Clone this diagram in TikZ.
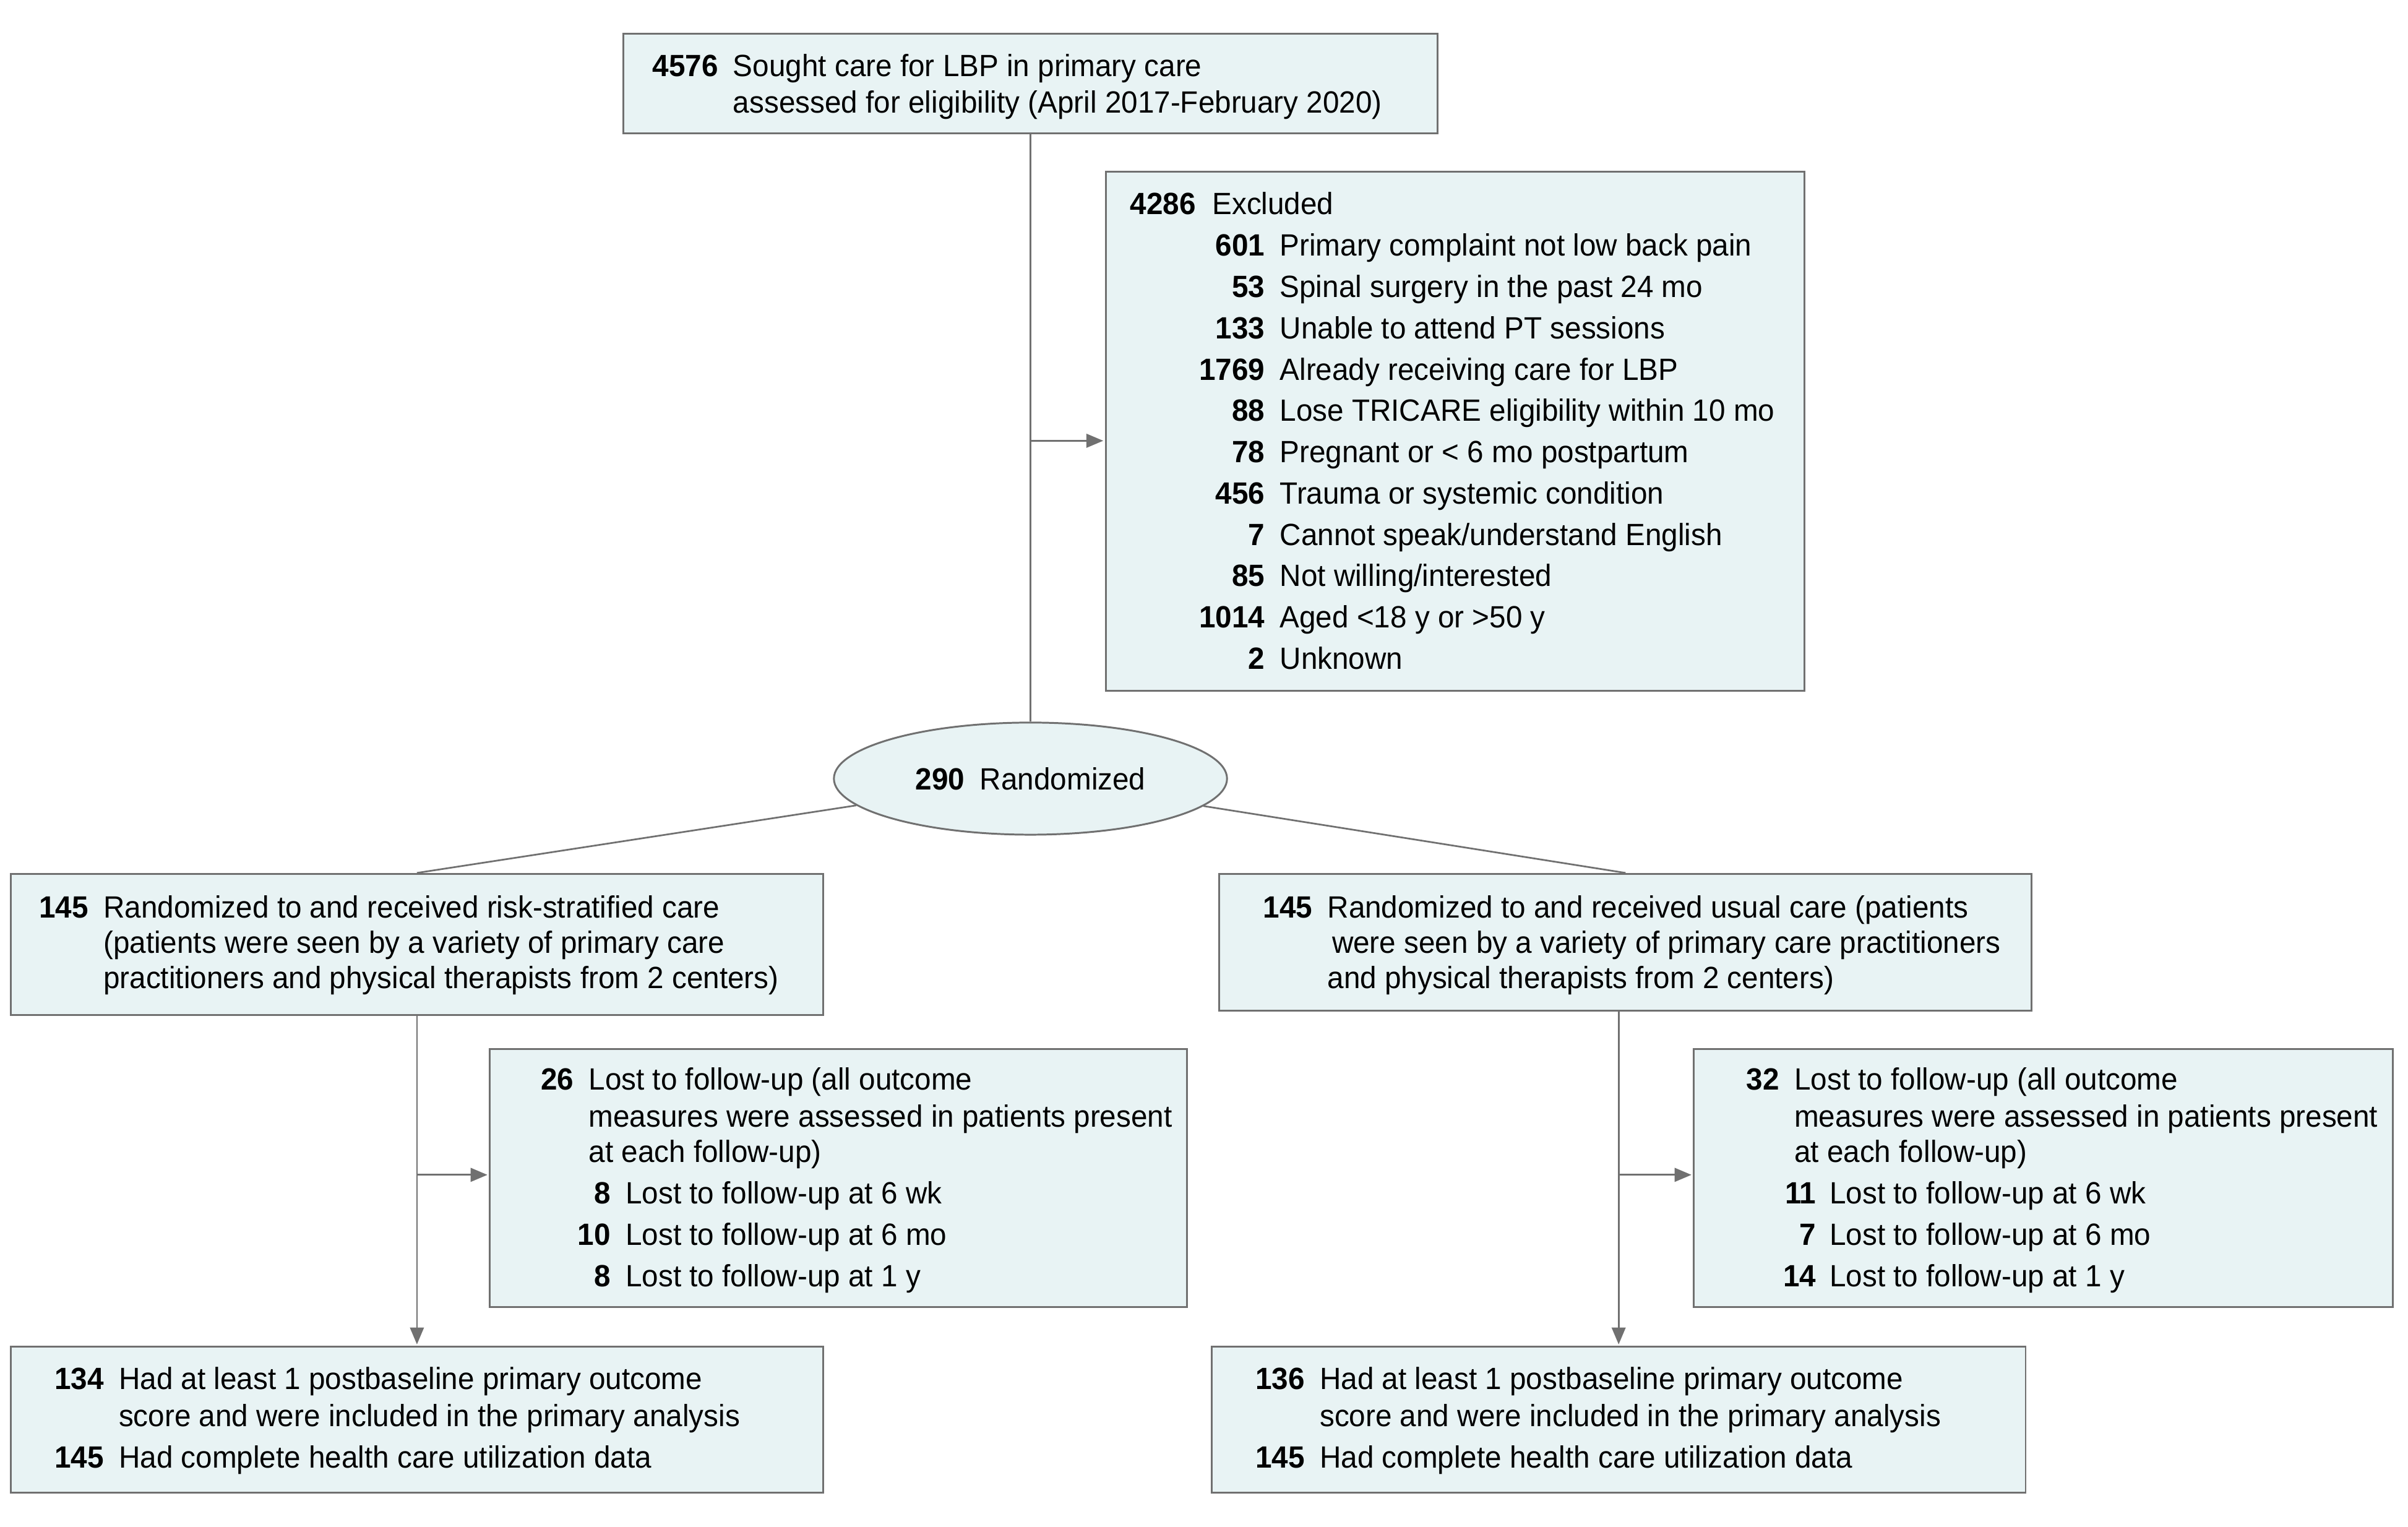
\documentclass[tikz,border=0pt]{standalone}
\usepackage{fontspec}
\setmainfont[FakeStretch=0.96]{Liberation Sans}
\usetikzlibrary{shapes.geometric,arrows.meta,fit}
\definecolor{boxfill}{RGB}{232,243,244}
\definecolor{linegray}{RGB}{112,112,112}
\tikzset{
  box/.style={draw=linegray, fill=boxfill, line width=0.6pt, inner sep=0pt},
  num/.style={anchor=mid east, inner sep=0pt, yshift=-0.7pt, font=\bfseries},
  txt/.style={anchor=mid west, inner sep=0pt, yshift=-0.7pt},
  link/.style={draw=linegray, line width=0.55pt},
  arr/.style={link, -{Triangle[length=5.5pt,width=4.5pt]}, shorten >=0.5pt}
}
\begin{document}
\begin{tikzpicture}[x=0.5pt, y=-0.5pt, font=\fontsize{10}{12}\selectfont]
\useasboundingbox (0,0) rectangle (1568,994);
\node[box, fit={(406,22) (936,87)}] (screen) {};
\node[box, fit={(720,112) (1175,450)}] (excl) {};
\node[box, ellipse, minimum width=128pt, minimum height=36.5pt] (rand) at (671,507) {{\bfseries 290}\enspace Randomized};
\node[box, fit={(7,569) (536,661)}] (risk) {};
\node[box, fit={(794,569) (1323,658)}] (usual) {};
\node[box, fit={(319,683) (773,851)}] (risklost) {};
\node[box, fit={(1103,683) (1558,851)}] (usuallost) {};
\node[box, fit={(7,877) (536,972)}] (riskend) {};
\node[box, fit={(789,877) (1319,972)}] (usualend) {};

\node[num] (screen-n) at (468,43) {4576};
\node[txt] (screen-a) at (477,43) {Sought care for LBP in primary care};
\node[txt] (screen-b) at (477,67) {assessed for eligibility (April 2017-February 2020)};

\node[num] (excl-n) at (779,133) {4286};
\node[txt] (excl-t) at (789,133) {Excluded};
\foreach \n/\t [count=\i] in {601/{Primary complaint not low back pain},
    53/{Spinal surgery in the past 24 mo}, 133/{Unable to attend PT sessions},
    1769/{Already receiving care for LBP}, 88/{Lose TRICARE eligibility within 10 mo},
    78/{Pregnant or < 6 mo postpartum}, 456/{Trauma or systemic condition},
    7/{Cannot speak/understand English}, 85/{Not willing/interested},
    1014/{Aged <18 y or >50 y}, 2/{Unknown}}{
  \node[num] (excl-n\i) at (824,160+26.9*\i-26.9) {\n};
  \node[txt] (excl-t\i) at (833,160+26.9*\i-26.9) {\t};
}

\node[num] (risk-n) at (58,591) {145};
\node[txt] (risk-a) at (67,591) {Randomized to and received risk-stratified care};
\node[txt] (risk-b) at (67,614) {(patients were seen by a variety of primary care};
\node[txt] (risk-c) at (67,637) {practitioners and physical therapists from 2 centers)};

\node[num] (usual-n) at (855,591) {145};
\node[txt] (usual-a) at (864,591) {Randomized to and received usual care (patients};
\node[txt] (usual-b) at (867,614) {were seen by a variety of primary care practitioners};
\node[txt] (usual-c) at (864,637) {and physical therapists from 2 centers)};

\node[num] (risklost-n) at (374,703) {26};
\node[txt] (risklost-a) at (383,703) {Lost to follow-up (all outcome};
\node[txt] (risklost-b) at (383,727) {measures were assessed in patients present};
\node[txt] (risklost-c) at (383,750) {at each follow-up)};
\foreach \n/\t [count=\i] in {8/{6 wk}, 10/{6 mo}, 8/{1 y}}{
  \node[num] (risklost-n\i) at (398,777+27*\i-27) {\n};
  \node[txt] (risklost-t\i) at (407,777+27*\i-27) {Lost to follow-up at \t};
}

\node[num] (usuallost-n) at (1159,703) {32};
\node[txt] (usuallost-a) at (1168,703) {Lost to follow-up (all outcome};
\node[txt] (usuallost-b) at (1168,727) {measures were assessed in patients present};
\node[txt] (usuallost-c) at (1168,750) {at each follow-up)};
\foreach \n/\t [count=\i] in {11/{6 wk}, 7/{6 mo}, 14/{1 y}}{
  \node[num] (usuallost-n\i) at (1183,777+27*\i-27) {\n};
  \node[txt] (usuallost-t\i) at (1191,777+27*\i-27) {Lost to follow-up at \t};
}

\node[num] (riskend-n) at (68,898) {134};
\node[txt] (riskend-a) at (77,898) {Had at least 1 postbaseline primary outcome};
\node[txt] (riskend-b) at (77,922) {score and were included in the primary analysis};
\node[num] (riskend-m) at (68,949) {145};
\node[txt] (riskend-c) at (77,949) {Had complete health care utilization data};

\node[num] (usualend-n) at (850,898) {136};
\node[txt] (usualend-a) at (859,898) {Had at least 1 postbaseline primary outcome};
\node[txt] (usualend-b) at (859,922) {score and were included in the primary analysis};
\node[num] (usualend-m) at (850,949) {145};
\node[txt] (usualend-c) at (859,949) {Had complete health care utilization data};

\draw[link] (screen) -- (rand);
\coordinate (exclbr) at (671,287);
\draw[arr] (exclbr) -- (exclbr -| excl.west);
\draw[link] (rand) -- (risk.north);
\draw[link] (rand) -- (usual.north);
\draw[arr] (risk) -- (riskend);
\coordinate (riskbr) at (271.5,765);
\draw[arr] (riskbr) -- (riskbr -| risklost.west);
\draw[arr] (usual.south -| usualend.north) -- (usualend.north);
\coordinate (usualbr) at (1054,765);
\draw[arr] (usualbr) -- (usualbr -| usuallost.west);
\end{tikzpicture}
\end{document}
